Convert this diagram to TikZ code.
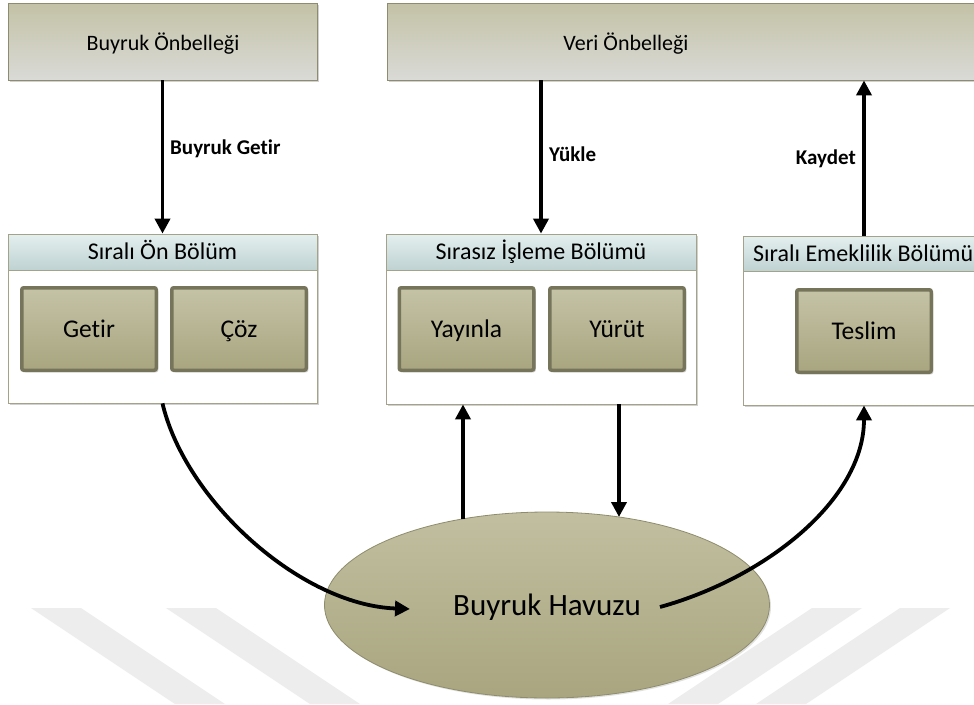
\documentclass[tikz,border=0pt]{standalone}
\usepackage{fontspec}
\setmainfont[Ligatures=NoCommon]{Carlito}
\usetikzlibrary{arrows.meta,shadows,calc,shapes.geometric}

\definecolor{cacheTop}{HTML}{C3C2A6}
\definecolor{cacheBot}{HTML}{DADAD7}
\definecolor{cacheEdge}{HTML}{8D8B70}
\definecolor{headTop}{HTML}{E4EFEF}
\definecolor{headBot}{HTML}{BFD2D2}
\definecolor{secEdge}{HTML}{A4A288}
\definecolor{unitTop}{HTML}{C5C3A6}
\definecolor{unitBot}{HTML}{A8A580}
\definecolor{unitEdge}{HTML}{76745A}
\definecolor{poolTop}{HTML}{C1BFA0}
\definecolor{poolBot}{HTML}{A9A57F}
\definecolor{poolEdge}{HTML}{8E8C6C}
\definecolor{markGray}{HTML}{EDEDED}

\begin{document}
\begin{tikzpicture}[x=1pt,y=-1pt,
  softshadow/.style={drop shadow={shadow xshift=2pt,shadow yshift=-2pt,fill=black!40,opacity=.45}},
  % text boxes sized to the capital height, so labels centre on their capitals
  captext/.style={text height=#1,text depth=0pt},
  cachebox/.style={draw=cacheEdge,line width=0.8pt,top color=cacheTop,bottom color=cacheBot,
    minimum height=77pt,inner sep=0pt,softshadow},
  cachetext/.style={font=\fontsize{22}{26}\selectfont,captext=14.2pt,inner sep=0pt},
  secbody/.style={draw=secEdge,line width=0.8pt,fill=white,inner sep=0pt,softshadow},
  sechead/.style={draw=secEdge,line width=0.8pt,top color=headTop,bottom color=headBot,
    inner sep=0pt,font=\fontsize{24}{28}\selectfont,captext=15.5pt},
  unitbox/.style={draw=unitEdge,line width=3.5pt,rounded corners=2pt,top color=unitTop,
    bottom color=unitBot,minimum width=134.5pt,minimum height=82.5pt,inner sep=0pt,
    font=\fontsize{25.5}{30}\selectfont,captext=16.4pt,softshadow},
  poolshape/.style={ellipse,draw=poolEdge,line width=0.8pt,top color=poolTop,bottom color=poolBot,
    minimum width=445pt,minimum height=186pt,inner sep=0pt,font=\fontsize{31}{36}\selectfont,captext=20pt,
    drop shadow={shadow xshift=1.5pt,shadow yshift=-1.5pt,fill=black!30,opacity=.4}},
  conn/.style={line width=3.8pt,-{Triangle[width=15pt,length=15pt]}},
  flowlabel/.style={font=\fontsize{21}{25}\selectfont\bfseries,inner sep=0pt,captext=13.5pt}
]
\useasboundingbox (0,0) rectangle (974,704);
\clip (0,0) rectangle (974,704);
\fill[white] (0,0) rectangle (974,704);

% faint background stripes
\fill[markGray] (31,608) -- (81,608) -- (225,704) -- (175,704) -- cycle;
\fill[markGray] (166,608) -- (216,608) -- (360,704) -- (310,704) -- cycle;
\fill[markGray] (812,608) -- (862,608) -- (718,704) -- (668,704) -- cycle;
\fill[markGray] (900,608) -- (950,608) -- (806,704) -- (756,704) -- cycle;

% caches
\node[cachebox,minimum width=309pt] (ibuf) at (162.5,41.5) {};
\node[cachetext] (ibuftext) at (163,43) {Buyruk Önbelleği};
\node[cachebox,minimum width=600pt] (dbuf) at (687,41.5) {};
\node[cachetext] (dbuftext) at (626,43) {Veri Önbelleği};

% in-order front end
\node[secbody,minimum width=309pt,minimum height=169pt] (front) at (162.5,318.5) {};
\node[sechead,minimum width=309pt,minimum height=36pt] (fronthd) at (162.5,252) {Sıralı Ön Bölüm};
\node[unitbox] (fetch) at (89,329) {Getir};
\node[unitbox] (decode) at (239,329) {Çöz};

% out-of-order execution
\node[secbody,minimum width=310pt,minimum height=170pt] (ooo) at (541,319) {};
\node[sechead,minimum width=310pt,minimum height=36pt] (ooohd) at (541,252) {Sırasız İşleme Bölümü};
\node[unitbox] (issue) at (466.5,329) {Yayınla};
\node[unitbox] (exec) at (617,329) {Yürüt};

% in-order retirement
\node[secbody,minimum width=242pt,minimum height=169pt] (retire) at (864,320.5) {};
\node[sechead,minimum width=242pt,minimum height=35pt] (retirehd) at (864,253.5) {};
\node[font=\fontsize{24}{28}\selectfont,captext=15.5pt,anchor=west,inner sep=0pt] (retiretitle) at (753,253.5) {Sıralı Emeklilik Bölümü};
\node[unitbox] (commit) at (864,331) {Teslim};

% instruction pool
\node[poolshape] (pool) at (547,605) {Buyruk Havuzu};

% connector end points on the pool
\coordinate (poolUp) at (463,519);
\coordinate (poolDown) at (619,517);
\coordinate (poolIn) at (410,609);
\coordinate (poolOut) at (660,607);

% cache traffic
\draw[conn] (ibuf.south) -- (front.north);
\node[flowlabel,anchor=west] (fetchlabel) at (170,148) {Buyruk Getir};
\draw[conn] (ooo.north |- dbuf.south) -- (ooo.north);
\node[flowlabel,anchor=west] (loadlabel) at (549,155) {Yükle};
\draw[conn] (retire.north) -- (retire.north |- dbuf.south);
\node[flowlabel,anchor=east] (storelabel) at (856,158) {Kaydet};

% pool traffic
\draw[conn] (front.south) .. controls (185,500) and (300,605) .. (poolIn);
\draw[conn] (poolUp) -- (poolUp |- ooo.south);
\draw[conn] (poolDown |- ooo.south) -- (poolDown);
\draw[conn] (poolOut) .. controls (765,578) and (864,500) .. (retire.south);
\end{tikzpicture}
\end{document}
